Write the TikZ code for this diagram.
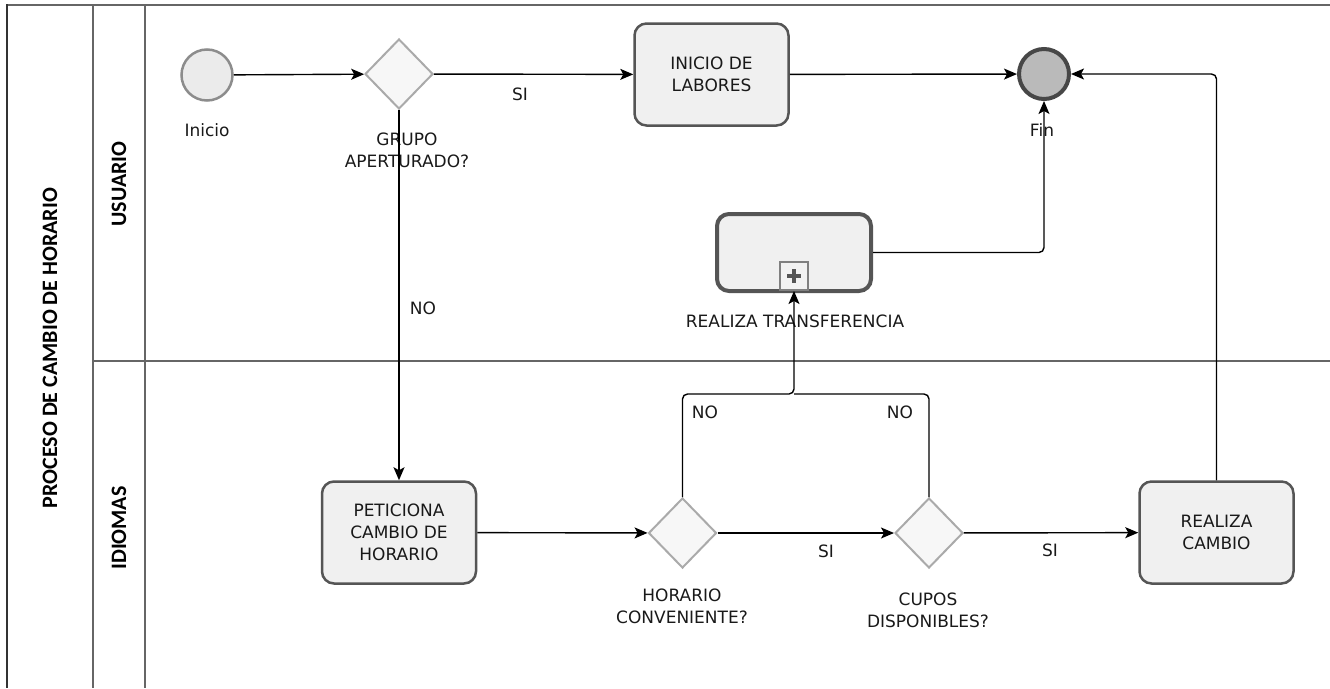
\documentclass[tikz,border=0pt]{standalone}
\usepackage{fontspec}
\setmainfont{DejaVu Sans}
\newfontfamily\lanefont{Carlito}
\usetikzlibrary{shapes.geometric, positioning, arrows.meta}
\definecolor{boxfill}{HTML}{F0F0F0}
\definecolor{boxline}{HTML}{555555}
\definecolor{gwline}{HTML}{AAAAAA}
\definecolor{gwfill}{HTML}{F7F7F7}
\definecolor{poolline}{HTML}{666666}
\tikzset{
>={Stealth[length=13pt, width=11pt, inset=3pt]}, % arrow heads of the flows
every node/.style={font=\fontsize{17}{22}\selectfont, text=black!90}, % all texts
flow/.style={->, line width=1.4pt, rounded corners=5pt}, % sequence flows
task/.style={draw=boxline, fill=boxfill, line width=2.5pt, rounded corners=12pt, minimum width=154pt, minimum height=102pt, align=center, inner sep=0pt}, % activities
gate/.style={diamond, draw=gwline, fill=gwfill, line width=2pt, minimum width=68pt, minimum height=70pt, inner sep=0pt}, % gateways
lbl/.style={align=center, inner sep=0pt}, % texts under the shapes
lane/.style={rotate=90, font=\lanefont\bfseries\fontsize{22}{26}\selectfont, text=black}, % pool and lane titles
pool/.style={draw=poolline, line width=1.5pt}, % pool and lane borders
}
\begin{document}
\begin{tikzpicture}[x=1pt, y=-1pt]
\useasboundingbox (0,0) rectangle (1330,688);
% pool and lanes
\draw[pool] (1330,5) -- (7,5);
\draw[line width=2.5pt, black!80] (7,4) -- (7,688);
\draw[pool] (93,5) -- (93,688);
\draw[pool] (145,5) -- (145,688);
\draw[pool] (93,361) -- (1330,361);
\node[lane] (proceso) at (50,348) {PROCESO DE CAMBIO DE HORARIO};
\node[lane] (usuario) at (119,184) {USUARIO};
\node[lane] (idiomas) at (119,528) {IDIOMAS};
% lane USUARIO
\node[circle, draw=black!45, fill=black!8, line width=2.5pt, minimum size=51pt, inner sep=0pt] (start) at (207,75) {};
\node[gate] (g1) at (399,74) {};
\node[task] (labores) at (711.5,74.5) {INICIO DE\\LABORES};
\node[circle, draw=black!72, fill=black!27, line width=4pt, minimum size=50pt, inner sep=0pt] (fin) at (1044,74) {};
\node[task, line width=4pt, minimum width=154pt, minimum height=77pt] (sub) at (794,252.5) {};
\node[draw=black!50, fill=black!5, line width=2pt, minimum size=28pt, inner sep=0pt] (mark) at (794,276) {};
\draw[line width=4pt, boxline] (mark.center) +(-7,0) -- +(7,0) (mark.center) +(0,-7) -- +(0,7);
\node[lbl] at (207,130) {Inicio};
\node[lbl] at (407,150) {GRUPO\\APERTURADO?};
\node[lbl] at (1042,130) {Fin};
\node[lbl] at (795,321) {REALIZA TRANSFERENCIA};
% lane IDIOMAS
\node[task] (peticiona) at (399,532.5) {PETICIONA\\CAMBIO DE\\HORARIO};
\node[gate] (g2) at (682.5,533) {};
\node[gate] (g3) at (929,533) {};
\node[task] (cambio) at (1216.5,532.5) {REALIZA\\CAMBIO};
\node[lbl] at (682,606) {HORARIO\\CONVENIENTE?};
\node[lbl] at (928,610) {CUPOS\\DISPONIBLES?};
\coordinate (join) at (794,394);
% flows
\draw[flow] (start) -- (g1);
\draw[flow] (g1) -- (labores);
\draw[flow] (labores) -- (fin);
\draw[flow] (g1) -- (peticiona);
\draw[flow] (peticiona) -- (g2);
\draw[flow] (g2) -- (g3);
\draw[flow] (g3) -- (cambio);
\draw[flow] (cambio.north) |- (fin.east);
\draw[flow] (sub.east) -| (fin.south);
\draw[flow] (g2.north) |- (join) -- (mark.south);
\draw[flow, -] (g3.north) |- (join);
% flow labels
\node[lbl] at (520,94) {SI};
\node[lbl] at (423,308) {NO};
\node[lbl] at (705,412) {NO};
\node[lbl] at (900,412) {NO};
\node[lbl] at (826,551) {SI};
\node[lbl] at (1050,550) {SI};
\end{tikzpicture}
\end{document}
